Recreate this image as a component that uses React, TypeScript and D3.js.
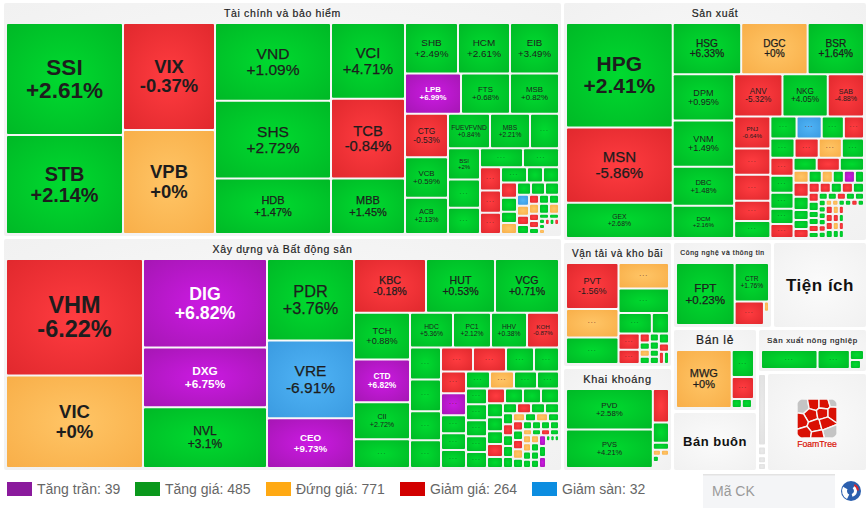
import * as d3 from 'd3'

type Tile = {
    dir?: 'row' | 'col'
    children?: Tile[]
    name?: string
    change?: string
    kind?: string
    value?: number
}

const row = (...children: Tile[]): Tile => ({ dir: 'row', children })
const col = (...children: Tile[]): Tile => ({ dir: 'col', children })
const cell = (kind: string, value: number): Tile => ({ kind, value })
// one cell per letter, all of the same size
const cells = (kinds: string, value: number): Tile[] =>
    kinds.split('').map((k) => cell(k, value))
const stock = (name: string, change: string, value: number): Tile => {
    const pct = parseFloat(change)
    let kind = 'g'
    if (pct >= 6.7) kind = 'p'
    else if (pct <= -6.7) kind = 'b'
    else if (pct < 0) kind = 'r'
    else if (pct === 0) kind = 'y'
    return { name, change, kind, value }
}

// Tile sizes
const financeTiles = row(
    col(stock('SSI', '+2.61%', 12987), stock('STB', '+2.14%', 11466)),
    col(stock('VIX', '-0.37%', 9752), stock('VPB', '+0%', 9476)),
    col(stock('VND', '+1.09%', 8932), stock('SHS', '+2.72%', 8932), stock('HDB', '+1.47%', 6380)),
    col(stock('VCI', '+4.71%', 5550), stock('TCB', '-0.84%', 5846), stock('MBB', '+1.45%', 4070)),
    col(
        row(stock('SHB', '+2.49%', 2650), stock('HCM', '+2.61%', 2600), stock('EIB', '+3.49%', 2450)),
        row(stock('LPB', '+6.99%', 2240), stock('FTS', '+0.68%', 1960), stock('MSB', '+0.82%', 1960)),
        row(
            col(stock('CTG', '-0.53%', 1849), stock('VCB', '+0.59%', 1720), stock('ACB', '+2.13%', 1548)),
            col(
                row(stock('FUEVFVND', '+0.84%', 1428), stock('MBS', '+2.21%', 1360), cell('g', 986)),
                row(
                    col(stock('BSI', '+2%', 992), cell('g', 896), cell('g', 832)),
                    col(
                        row(cell('g', 817), cell('g', 684)),
                        row(
                            col(cell('r', 483), cell('r', 462), cell('r', 441)),
                            col(
                                row(cell('g', 390), cell('g', 240), cell('g', 240)),
                                row(
                                    col(cell('r', 240), cell('g', 224), cell('g', 176), cell('y', 176)),
                                    col(
                                        row(...cells('ggg', 168)),
                                        row(
                                            col(cell('b', 132), cell('y', 120), cell('r', 108), cell('g', 108)),
                                            col(
                                                row(...cells('rgg', 90)),
                                                row(
                                                    col(cell('y', 100), cell('r', 70), cell('r', 70), cell('g', 60)),
                                                    col(
                                                        row(...cells('gy', 100)),
                                                        row(...cells('gg', 50)),
                                                        row(
                                                            col(...cells('ggy', 30)),
                                                            col(row(...cells('rgr', 28)), cell('_', 126))
                                                        )
                                                    )
                                                )
                                            )
                                        )
                                    )
                                )
                            )
                        )
                    )
                )
            )
        )
    )
)

const constructionTiles = row(
    col(stock('VHM', '-6.22%', 16029), stock('VIC', '+0%', 12741)),
    col(stock('DIG', '+6.82%', 11036), stock('DXG', '+6.75%', 7440), stock('NVL', '+3.1%', 7564)),
    col(stock('PDR', '+3.76%', 7134), stock('VRE', '-6.91%', 6786), stock('CEO', '+9.73%', 4350)),
    col(
        row(stock('KBC', '-0.18%', 3888), stock('HUT', '+0.53%', 3726), stock('VCG', '+0.71%', 3456)),
        row(
            col(stock('TCH', '+0.88%', 2632), stock('CTD', '+6.82%', 2408), stock('CII', '+2.72%', 2072), cell('g', 1624)),
            col(
                row(stock('HDC', '+5.36%', 1505), stock('PC1', '+2.12%', 1330), stock('HHV', '+0.38%', 1260), stock('KOH', '-0.87%', 1120)),
                row(
                    col(cell('g', 992), cell('g', 992), cell('g', 899), cell('g', 868)),
                    col(
                        row(cell('r', 768), cell('r', 792), cell('g', 672), cell('g', 600)),
                        row(
                            col(cell('r', 550), cell('p', 550), cell('g', 450), cell('g', 425), cell('g', 450)),
                            col(
                                row(cell('g', 408), cell('y', 408), cell('g', 391), cell('g', 374)),
                                row(
                                    col(...cells('ggggg', 336)),
                                    col(
                                        row(...cells('rggg', 270)),
                                        row(
                                            col(cell('g', 224), cell('g', 224), cell('g', 208), cell('r', 208), cell('g', 176)),
                                            col(
                                                row(...cells('grgg', 140)),
                                                row(
                                                    col(...cells('grggg', 110)),
                                                    col(
                                                        row(cell('y', 96), cell('g', 88), cell('y', 96), cell('g', 88)),
                                                        row(
                                                            col(...cells('rgryg', 94)),
                                                            col(
                                                                row(...cells('gggg', 72)),
                                                                row(...cells('ygrg', 54)),
                                                                row(
                                                                    col(...cells('yygg', 66)),
                                                                    col(...cells('yggg', 66)),
                                                                    col(...cells('pgp', 77)),
                                                                    col(row(...cells('ggg', 26)), cell('_', 351))
                                                                )
                                                            )
                                                        )
                                                    )
                                                )
                                            )
                                        )
                                    )
                                )
                            )
                        )
                    )
                )
            )
        )
    )
)

const productionTiles = row(
    col(stock('HPG', '+2.41%', 11024), stock('MSN', '-5.86%', 7950), stock('GEX', '+2.68%', 3710)),
    col(
        row(stock('HSG', '+6.33%', 3468), stock('DGC', '+0%', 3366), stock('BSR', '+1.64%', 2856)),
        row(
            col(stock('DPM', '+0.95%', 2806), stock('VNM', '+1.49%', 2806), stock('DBC', '+1.48%', 2379), stock('DCM', '+2.16%', 1952)),
            col(
                row(stock('ANV', '-5.32%', 2016), stock('NKG', '+4.05%', 1890), stock('SAB', '-4.88%', 1512)),
                row(
                    col(stock('PNJ', '-0.64%', 1152), cell('r', 936), cell('r', 936), cell('r', 720), cell('g', 612)),
                    col(
                        row(cell('g', 572), cell('b', 550), cell('g', 484), cell('r', 440)),
                        row(cell('g', 456), cell('r', 456), cell('y', 437), cell('g', 418)),
                        row(
                            col(cell('r', 414), cell('g', 391), cell('g', 368), cell('g', 345), cell('r', 322)),
                            col(
                                row(cell('g', 299), cell('r', 299), cell('g', 312)),
                                row(cell('y', 180), cell('g', 156), cell('y', 132), cell('g', 132), cell('p', 132), cell('g', 108)),
                                row(
                                    col(cell('r', 210), cell('g', 195), cell('g', 150), cell('g', 135), cell('r', 135)),
                                    col(
                                        row(...cells('rrgrg', 110)),
                                        row(
                                            col(cell('r', 90), cell('g', 90), cell('g', 70), cell('g', 70), cell('r', 70), cell('g', 60)),
                                            col(
                                                row(...cells('ggrgg', 63)),
                                                row(
                                                    col(...cells('ggggrg', 44)),
                                                    col(
                                                        row(...cells('yyggrg', 38)),
                                                        row(
                                                            col(...cells('rrrg', 56)),
                                                            col(...cells('yryg', 48)),
                                                            col(...cells('rgrg', 40)),
                                                            cell('_', 640)
                                                        )
                                                    )
                                                )
                                            )
                                        )
                                    )
                                )
                            )
                        )
                    )
                )
            )
        )
    )
)

const transportTiles = row(
    col(stock('PVT', '-1.56%', 2340), cell('y', 1456), cell('g', 1352)),
    col(
        cell('y', 1250),
        cell('g', 1200),
        row(cell('g', 660), cell('g', 340)),
        row(
            col(cell('r', 336), cell('r', 294)),
            col(cell('r', 90), cell('g', 70), cell('y', 70), cell('g', 70)),
            col(cell('g', 72), cell('g', 72), cell('g', 63), cell('g', 63)),
            col(cell('g', 100), cell('r', 80), row(cell('r', 60), cell('g', 60)))
        )
    )
)

const miningTiles = row(
    col(stock('PVD', '+2.58%', 3440), stock('PVS', '+4.21%', 3268)),
    col(
        cell('r', 528),
        cell('g', 320),
        cell('g', 112),
        row(...cells('yy', 48)),
        row(cell('g', 36), cell('_', 60)),
        cell('_', 96)
    )
)

const techTiles = row(
    stock('FPT', '+0.23%', 3538),
    col(
        stock('CTR', '+1.76%', 1292),
        row(cell('r', 667), col(cell('y', 50), cell('_', 65)))
    )
)

const retailTiles = row(
    stock('MWG', '+0%', 3190),
    col(cell('g', 594), cell('r', 484), row(cell('g', 90), cell('g', 90), cell('_', 18)))
)

const agricultureTiles = row(
    cell('g', 1064),
    cell('g', 608),
    col(cell('g', 140), row(cell('g', 99), cell('_', 27)))
)

const scrollTiles = col(cell('s', 710), cell('_', 30), cell('s', 70), cell('_', 30), cell('s', 50), cell('_', 20), cell('s', 50))

type Panel = Tile & { title?: string }
const panel = (title: string, value: number): Panel => ({ title, value, kind: 'panel' })

const panelTree = row(
    col(panel('Tài chính và bảo hiểm', 132160), panel('Xây dựng và Bất động sản', 131040)),
    col(
        panel('Sản xuất', 73200),
        row(
            col(panel('Vận tải và kho bãi', 13860), panel('Khai khoáng', 11440)),
            col(
                row(panel('Công nghệ và thông tin', 8700), panel('Tiện ích', 8265)),
                row(
                    col(panel('Bán lẻ', 7055), panel('Bán buôn', 5100)),
                    col(
                        panel('Sản xuất nông nghiệp', 4840),
                        row(panel('scroll', 891), panel('FoamTree', 9999))
                    )
                )
            )
        )
    )
)

const panelTiles: Record<string, Tile> = {
    'Tài chính và bảo hiểm': financeTiles,
    'Xây dựng và Bất động sản': constructionTiles,
    'Sản xuất': productionTiles,
    'Vận tải và kho bãi': transportTiles,
    'Khai khoáng': miningTiles,
    'Công nghệ và thông tin': techTiles,
    'Bán lẻ': retailTiles,
    'Sản xuất nông nghiệp': agricultureTiles,
}

const titleSize: Record<string, number> = {
    'Tài chính và bảo hiểm': 10.5,
    'Xây dựng và Bất động sản': 10.5,
    'Sản xuất': 10.5,
    'Vận tải và kho bãi': 10,
    'Khai khoáng': 11,
    'Công nghệ và thông tin': 6.8,
    'Bán lẻ': 12,
    'Sản xuất nông nghiệp': 8,
}
const emptyPanelSize: Record<string, number> = { 'Tiện ích': 17, 'Bán buôn': 13 }

const legendLabels = ['Tăng trần', 'Tăng giá', 'Đứng giá', 'Giảm giá', 'Giảm sàn']
const legendCounts = [39, 485, 771, 264, 32]
const legendColors = ['#8a1a9c', '#0a981c', '#ffa913', '#d20000', '#0c8de0']
const legendX = [7, 135, 266, 400, 532]

const gradients: Record<string, [string, string]> = {
    g: ['#00da2f', '#00b826'],
    r: ['#ff3c40', '#e0282d'],
    y: ['#ffc566', '#f8ae48'],
    p: ['#cb1ae2', '#a516b3'],
    b: ['#50b4f6', '#3a9ae0'],
    s: ['#eaeaea', '#dfdfdf'],
}

// seeds of the FoamTree badge: x, y, red or grey
const logoSeeds: [number, number, number][] = [
    [6, 7, 0], [17, 5, 1], [27, 5, 1], [37, 2, 0], [14, 16, 1], [26, 14, 1], [36, 14, 1],
    [4, 22, 1], [18, 27, 1], [29, 24, 1], [33, 34, 0], [8, 35, 1], [20, 37, 1],
]

const tile = (node: any, x0: number, y0: number, x1: number, y1: number) =>
    (node.data.dir === 'row' ? d3.treemapDice : d3.treemapSlice)(node, x0, y0, x1, y1)

function layout(tree: Tile, width: number, height: number, gap: number) {
    const root = d3.hierarchy<Tile>(tree).sum((d) => d.value || 0)
    d3.treemap<Tile>().tile(tile).size([width, height]).paddingInner(gap).round(false)(root)
    return root.leaves() as d3.HierarchyRectangularNode<Tile>[]
}

function TileMark({ node }: { node: d3.HierarchyRectangularNode<Tile> }) {
    const { kind, name, change } = node.data
    if (kind === '_') return null
    const w = node.x1 - node.x0
    const h = node.y1 - node.y0
    const cx = node.x0 + w / 2
    const cy = node.y0 + h / 2
    const longest = Math.max((name || '').length, (change || '').length)
    const size = Math.min(0.205 * w, 0.205 * h, name ? (1.55 * w) / longest : 99)
    const bold = kind === 'p' || size >= 17
    const ink = kind === 'p' ? '#fff' : '#1d1d1d'
    return (
        <g>
            <rect x={node.x0} y={node.y0} width={w} height={h} rx={1} fill={`url(#tile-${kind})`} />
            {name ? (
                <text
                    x={cx}
                    textAnchor="middle"
                    fontSize={size}
                    fontWeight={bold ? 700 : 400}
                    fill={ink}
                    stroke={bold ? 'none' : ink}
                    strokeWidth={size >= 10 ? 0.25 : 0}
                >
                    <tspan x={cx} y={cy - 0.2 * size}>{name}</tspan>
                    <tspan x={cx} y={cy + 0.86 * size}>{change}</tspan>
                </text>
            ) : w >= 17 && h >= 12 ? (
                <text
                    x={cx}
                    y={cy}
                    textAnchor="middle"
                    fontSize={7}
                    letterSpacing={1}
                    fill={kind === 'g' ? '#0b6d1e' : '#6d2a22'}
                >
                    ...
                </text>
            ) : null}
        </g>
    )
}

function FoamLogo({ x, y }: { x: number; y: number }) {
    const voronoi = d3.Delaunay.from(logoSeeds, (d) => d[0], (d) => d[1]).voronoi([0, 0, 40, 39])
    return (
        <g transform={`translate(${x},${y})`}>
            <clipPath id="logo-clip">
                <rect width={40} height={39} rx={7} />
            </clipPath>
            <g clipPath="url(#logo-clip)">
                {logoSeeds.map((d, i) => (
                    <path
                        key={i}
                        d={voronoi.renderCell(i)}
                        fill={d[2] ? '#d91004' : '#c4c4c4'}
                        stroke="#f6f6f6"
                        strokeWidth={1.4}
                    />
                ))}
            </g>
            <text x={20} y={48} textAnchor="middle" fontSize={8.7} fill="#d91004" stroke="#d91004" strokeWidth={0.2}>
                FoamTree
            </text>
        </g>
    )
}

function SwirlIcon({ x, y }: { x: number; y: number }) {
    const arc = d3.arc()
    return (
        <g transform={`translate(${x},${y})`}>
            <circle r={10} fill="#2b5fae" />
            <path
                d={arc({ innerRadius: 3, outerRadius: 6, startAngle: 0.6, endAngle: 2.9 }) as string}
                fill="#fff"
            />
            <path
                d={arc({ innerRadius: 4, outerRadius: 9, startAngle: 3.6, endAngle: 5.2 }) as string}
                fill="#fff"
            />
            <path
                d={arc({ innerRadius: 6, outerRadius: 8, startAngle: 0.5, endAngle: 1.5 }) as string}
                fill="#d8262c"
            />
        </g>
    )
}

export default function App() {
    const panels = layout(panelTree, 862, 467, 3)

    return (
        <svg
            width={867}
            height={516}
            style={{ position: 'absolute', left: 0, top: 0, fontFamily: '"Liberation Sans", Arial, sans-serif' }}
        >
            <defs>
                {Object.entries(gradients).map(([k, [inner, outer]]) => (
                    <radialGradient key={k} id={`tile-${k}`} r="0.72">
                        <stop offset="0%" stopColor={inner} />
                        <stop offset="100%" stopColor={outer} />
                    </radialGradient>
                ))}
                <radialGradient id="panel-bg" r="0.7">
                    <stop offset="0%" stopColor="#fbfbfb" />
                    <stop offset="100%" stopColor="#f1f1f1" />
                </radialGradient>
            </defs>

            <g transform="translate(4,3)">
                {panels.map((p) => {
                    const title = (p.data as Panel).title as string
                    const w = p.x1 - p.x0
                    const h = p.y1 - p.y0
                    const tree = panelTiles[title]
                    return (
                        <g key={title} transform={`translate(${p.x0},${p.y0})`}>
                            {title === 'scroll' ? (
                                layout(scrollTiles, w, h - 2, 0).map((n, i) => (
                                    <g key={i} transform="translate(0,1)">
                                        <TileMark node={n} />
                                    </g>
                                ))
                            ) : (
                                <>
                                    <rect width={w} height={h} rx={2} fill="url(#panel-bg)" />
                                    {title === 'FoamTree' && <FoamLogo x={29} y={25} />}
                                    {emptyPanelSize[title] && (
                                        <text
                                            x={w / 2}
                                            y={h / 2}
                                            dy=".35em"
                                            textAnchor="middle"
                                            fontSize={emptyPanelSize[title]}
                                            fontWeight={700}
                                            fill="#111"
                                            letterSpacing={0.5}
                                        >
                                            {title}
                                        </text>
                                    )}
                                    {tree && (
                                        <>
                                            <text
                                                x={w / 2}
                                                y={10}
                                                dy=".35em"
                                                textAnchor="middle"
                                                fontSize={titleSize[title]}
                                                letterSpacing={0.65}
                                                fill="#1d1d1d"
                                                stroke="#1d1d1d"
                                                strokeWidth={0.2}
                                            >
                                                {title}
                                            </text>
                                            <g transform="translate(3,21)">
                                                {layout(tree, w - 6, h - 24, 2).map((n, i) => (
                                                    <TileMark key={i} node={n} />
                                                ))}
                                            </g>
                                        </>
                                    )}
                                </>
                            )}
                        </g>
                    )
                })}
            </g>

            {legendLabels.map((label, i) => (
                <g key={label} transform={`translate(${legendX[i]},482)`}>
                    <rect width={25} height={14} fill={legendColors[i]} />
                    <text x={30} y={12} fontSize={14} fill="#666">
                        {`${label}: ${legendCounts[i]}`}
                    </text>
                </g>
            ))}

            <rect x={703} y={474} width={132} height={34} fill="#f4f5f7" />
            <rect x={703} y={474} width={132} height={1.5} fill="#e3e3e3" />
            <text x={712} y={496} fontSize={14} fill="#9a9a9a">
                Mã CK
            </text>
            <SwirlIcon x={851} y={491} />
        </svg>
    )
}
